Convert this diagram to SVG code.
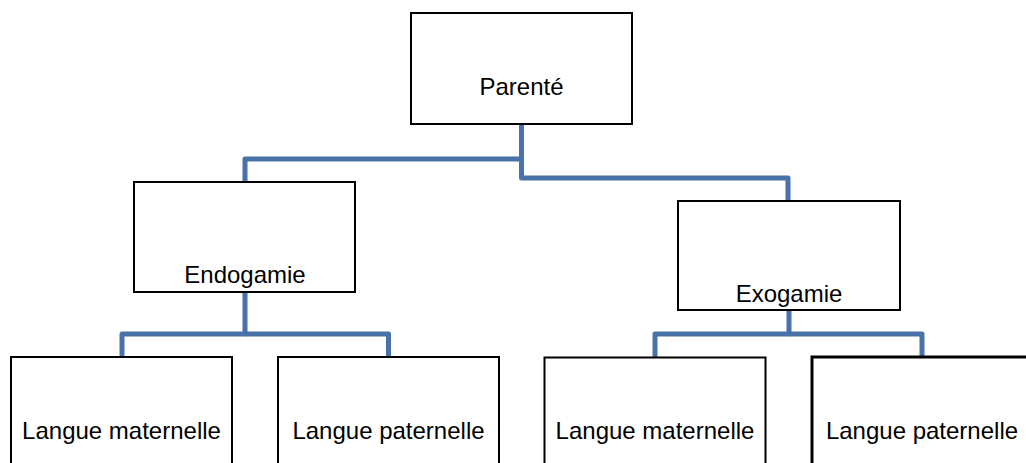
<svg xmlns="http://www.w3.org/2000/svg" width="1026" height="463" viewBox="0 0 1026 463">
  <style>
    .box { fill: #ffffff; stroke: #000000; stroke-width: 2; }
    .box.heavy { stroke-width: 3; }
    .label { font-family: "Liberation Sans", Arial, sans-serif; font-size: 24px; fill: #000000; text-anchor: middle; }
    .link { fill: none; stroke: #4872a8; stroke-width: 5; stroke-linejoin: round; }
  </style>
  <rect width="1026" height="463" fill="#ffffff"/>

  <!-- tree connectors -->
  <g id="connectors">
    <path class="link" d="M521.5 124 V178 H788 V201"/>
    <path class="link" d="M521.5 159 H245 V182"/>
    <path class="link" d="M245 292 V334 H122 V357"/>
    <path class="link" d="M245 334 H388.5 V357"/>
    <path class="link" d="M789 310 V334 H655 V357"/>
    <path class="link" d="M789 334 H922 V357"/>
  </g>

  <g id="parente">
    <rect class="box" x="411" y="13" width="221" height="111"/>
    <text class="label" x="521.5" y="95">Parenté</text>
  </g>

  <g id="endogamie">
    <rect class="box" x="134" y="182" width="221" height="110"/>
    <text class="label" x="245" y="283">Endogamie</text>
  </g>

  <g id="exogamie">
    <rect class="box" x="678" y="201" width="222" height="109"/>
    <text class="label" x="789" y="302">Exogamie</text>
  </g>

  <g id="endo-maternelle">
    <rect class="box" x="11" y="357" width="221" height="120"/>
    <text class="label" x="121.5" y="439">Langue maternelle</text>
  </g>

  <g id="endo-paternelle">
    <rect class="box" x="278" y="357" width="221" height="120"/>
    <text class="label" x="388.5" y="439">Langue paternelle</text>
  </g>

  <g id="exo-maternelle">
    <rect class="box" x="544.5" y="357.5" width="221" height="120"/>
    <text class="label" x="655" y="439">Langue maternelle</text>
  </g>

  <g id="exo-paternelle">
    <rect class="box heavy" x="812" y="357" width="221" height="120"/>
    <text class="label" x="922" y="439">Langue paternelle</text>
  </g>
</svg>
